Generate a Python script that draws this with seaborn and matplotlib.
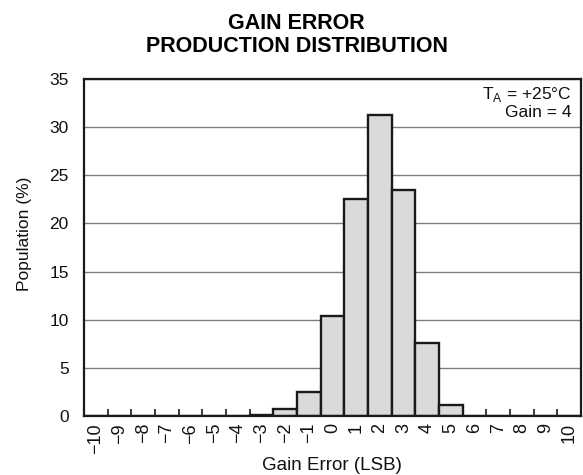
import numpy as np
import pandas as pd
import matplotlib
import matplotlib.pyplot as plt
import seaborn as sns

matplotlib.use('Agg')

# Gain error bins (LSB) and population share (%)
gain_error = list(range(-10, 11))
population = [0, 0, 0, 0, 0, 0, 0, 0.15, 0.7, 2.5, 10.4,
              22.5, 31.3, 23.5, 7.6, 1.1, 0.05, 0, 0, 0, 0]
tick_labels = [f"\u2212{abs(v)}" if v < 0 else str(v) for v in gain_error]

df = pd.DataFrame({'Gain Error': gain_error, 'Population': population})

sns.set_theme(style='white')
plt.rcParams['font.family'] = ['Liberation Sans', 'DejaVu Sans']
plt.rcParams.update({'text.color': '#111111', 'axes.labelcolor': '#111111',
                     'xtick.labelcolor': '#111111', 'ytick.labelcolor': '#111111'})

fig = plt.figure(figsize=(5.83, 4.75), dpi=100)
ax = fig.add_axes([84 / 583, 59 / 475, 497 / 583, 337 / 475])

ax.yaxis.grid(True, color='#7f7f7f', linewidth=1.0)
ax.set_axisbelow(True)

sns.barplot(data=df, x='Gain Error', y='Population', native_scale=True,
            width=1.0, color='#dadada', edgecolor='#1a1a1a', linewidth=1.7,
            saturation=1, ax=ax, zorder=2)

ax.set_xlim(-10.5, 10.5)
ax.set_ylim(0, 35)
ax.set_xticks(gain_error)
ax.set_xticklabels(tick_labels, rotation=90, fontsize=13)
ax.set_xticks(np.arange(-9.5, 10.0, 1.0), minor=True)
ax.tick_params(axis='x', which='major', length=0, pad=5)
ax.tick_params(axis='x', which='minor', direction='in', length=5, width=1.2,
               color='#1a1a1a', bottom=True)
ax.set_yticks(range(0, 36, 5))
ax.tick_params(axis='y', length=0, labelsize=12.5, pad=11)

for side in ['left', 'right', 'top', 'bottom']:
    ax.spines[side].set_color('#1a1a1a')
    ax.spines[side].set_linewidth(1.6)
    ax.spines[side].set_visible(True)

ax.set_xlabel('Gain Error (LSB)', fontsize=13.5)
ax.set_ylabel('Population (%)', fontsize=12.5)
ax.xaxis.set_label_coords(0.499, -0.122)
ax.yaxis.set_label_coords(-0.105, 0.54)

ax.text(0.981, 0.94, r'T$_\mathregular{A}$ = +25°C', transform=ax.transAxes,
        ha='right', va='baseline', fontsize=12.5)
ax.text(0.981, 0.887, 'Gain = 4', transform=ax.transAxes,
        ha='right', va='baseline', fontsize=12.5)

fig.text(296.5 / 583, 1 - 35 / 475, 'GAIN ERROR\nPRODUCTION DISTRIBUTION',
         ha='center', va='center', fontsize=15.5, fontweight='bold',
         linespacing=1.1, color='black')

fig.savefig('out.png', dpi=100)
